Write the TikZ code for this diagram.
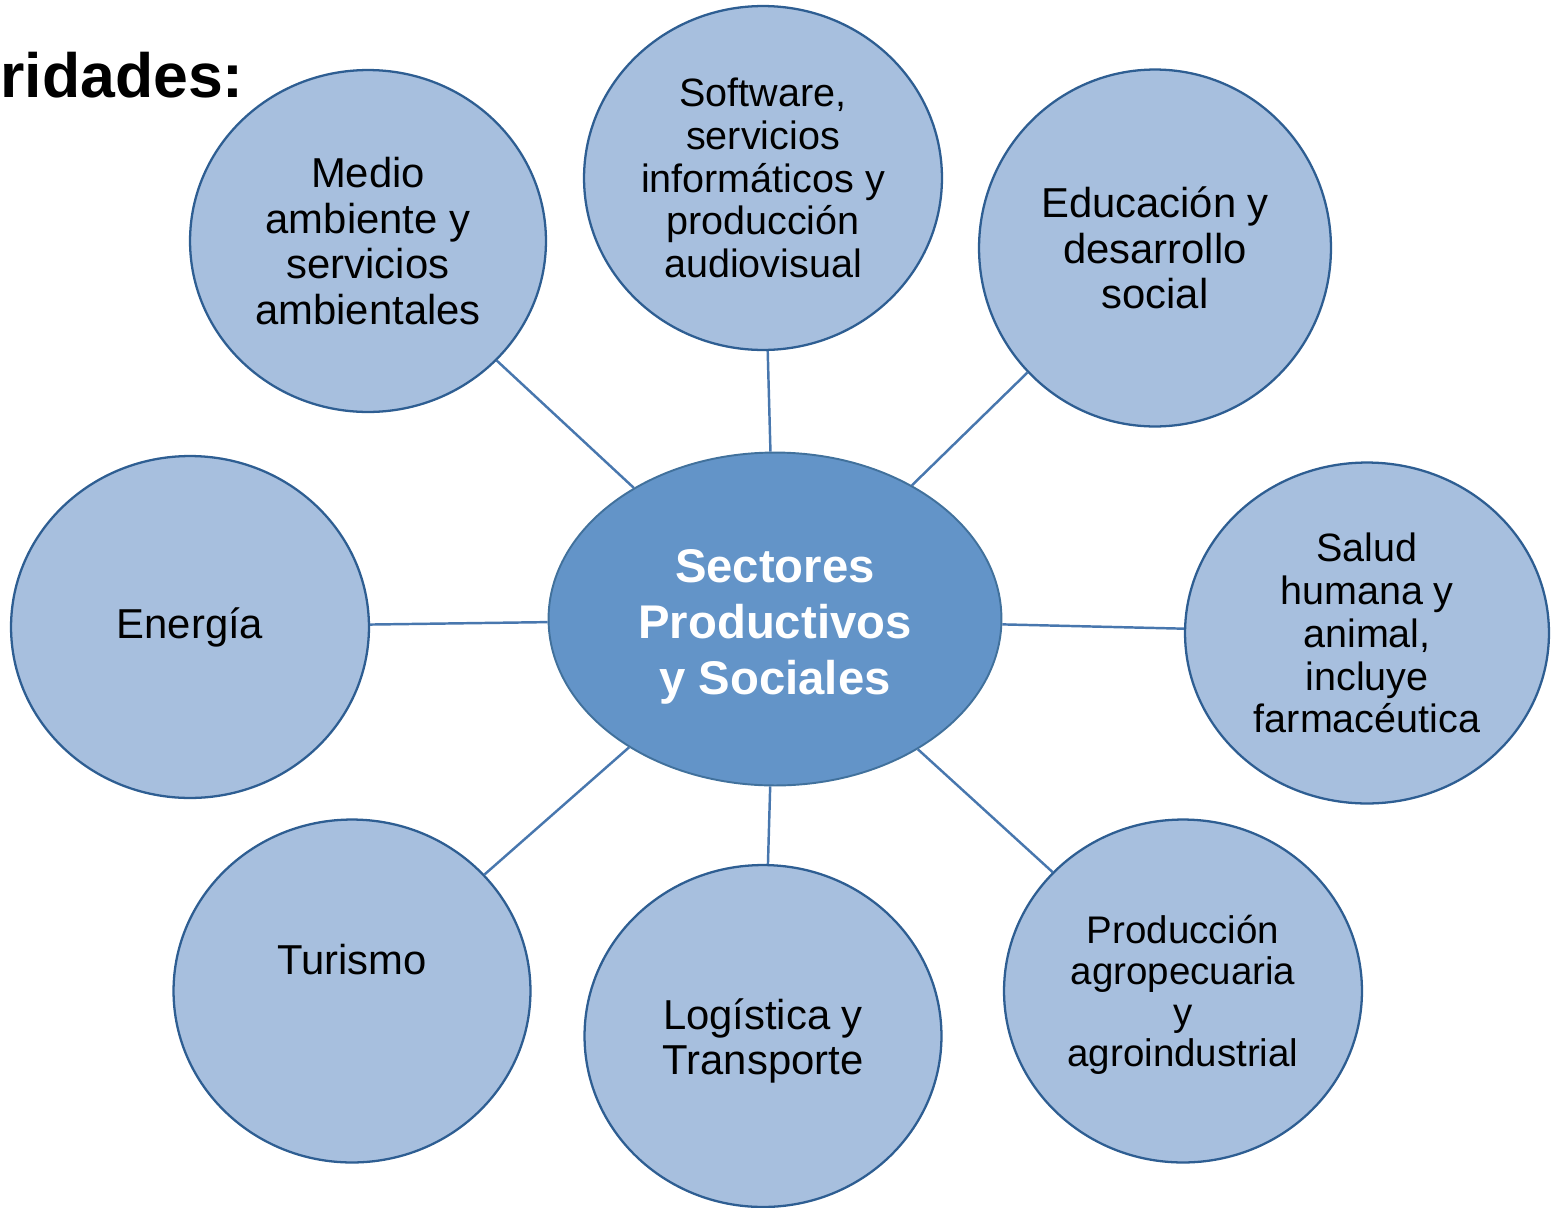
\documentclass[tikz,border=0pt]{standalone}
\usepackage{fontspec}
\setmainfont{Liberation Sans}
\usetikzlibrary{shapes.geometric}
\definecolor{circfill}{HTML}{A7BFDE}
\definecolor{circline}{HTML}{2E5E92}
\definecolor{centfill}{HTML}{6394C8}
\definecolor{centline}{HTML}{41719C}
\definecolor{connline}{HTML}{4877AE}
\tikzset{
  circ/.style={ellipse, draw=circline, fill=circfill, line width=1.3pt, inner sep=0pt,
    align=center, text=black, minimum width=7.16cm, minimum height=6.86cm},
  big/.style={font=\fontsize{23.8}{26}\selectfont},
  small/.style={font=\fontsize{22.5}{24.4}\selectfont},
  conn/.style={draw=connline, line width=1.4pt},
}
\begin{document}
\begin{tikzpicture}[x=0.02cm, y=-0.02cm]
\useasboundingbox (0,0) rectangle (1551,1207);
\node[anchor=base west, inner sep=0pt, font=\fontsize{35.6}{40}\selectfont\bfseries] (title) at (0,97) {ridades:};
\node[ellipse, draw=centline, fill=centfill, line width=1.1pt, minimum width=9.06cm, minimum height=6.66cm,
  inner sep=0pt, label={[align=center, text=white, yshift=-0.16cm, font=\fontsize{26.9}{32}\selectfont\bfseries]center:Sectores\\Productivos\\y Sociales}] (sect) at (775,619) {};
\node[circ, big, minimum width=7.12cm, minimum height=6.84cm] (medio) at (368,241) {Medio\\ambiente y\\servicios\\ambientales};
\node[circ, small, minimum height=6.88cm] (soft) at (763,178) {Software,\\servicios\\informáticos y\\producción\\audiovisual};
\node[circ, big, minimum width=7.04cm, minimum height=7.14cm] (edu) at (1155,248) {Educación y\\desarrollo\\social};
\node[circ, small, minimum width=7.28cm, minimum height=6.82cm] (salud) at (1367,633) {Salud\\humana y\\animal,\\incluye\\farmacéutica};
\node[circ, font=\fontsize{21.9}{23.3}\selectfont, label={[font=\fontsize{21.9}{23.3}\selectfont, align=center, yshift=-0.08cm]center:Producción\\agropecuaria\\y\\agroindustrial}] (agro) at (1183,991) {};
\node[circ, big, minimum width=7.14cm, minimum height=6.84cm, label={[big, align=center, yshift=-0.1cm]center:Logística y\\Transporte}] (logis) at (763,1036) {};
\node[circ, big, minimum width=7.14cm, label={[big, yshift=0.62cm]center:Turismo}] (turismo) at (352,991) {};
\node[circ, big, minimum height=6.84cm] (energia) at (190,627) {Energía};
\foreach \n in {medio,soft,edu,salud,agro,logis,turismo,energia}
  \draw[conn] (sect) -- (\n);
\end{tikzpicture}
\end{document}
